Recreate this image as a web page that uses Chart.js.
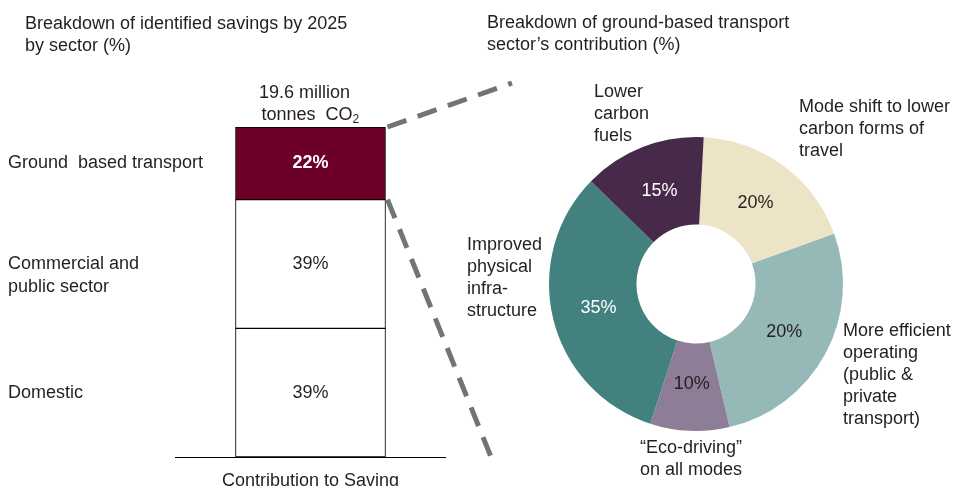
<!DOCTYPE html>
<html>
<head>
<meta charset="utf-8">
<script src="https://cdn.jsdelivr.net/npm/chart.js@4.4.1/dist/chart.umd.min.js"></script>
<style>
  html, body { margin: 0; padding: 0; background: #fff; }
  #wrap { position: relative; width: 958px; height: 486px; overflow: hidden; }
  canvas { position: absolute; left: 0; top: 0; }
  #donut { pointer-events: none; }
</style>
</head>
<body>
<div id="wrap">
  <canvas id="stack" width="958" height="486"></canvas>
  <canvas id="donut" width="958" height="486"></canvas>
</div>
<script>
// left: savings by sector, bottom segment first
const sectors = ['Domestic', 'Commercial and public sector', 'Ground based transport']
const sectorShares = [39, 39, 22]
const sectorText = ['39%', '39%', '22%']
const sectorLines = [['Domestic'], ['Commercial and', 'public sector'], ['Ground  based transport']]
const barCategory = ['Contribution to Saving']

// right: ground transport levers, clockwise from top
const levers = ['Mode shift', 'More efficient operating', 'Eco-driving', 'Improved physical infrastructure', 'Lower carbon fuels']
const leverSlices = [18.6, 26.9, 8.7, 32.3, 13.5]
const leverText = ['20%', '20%', '10%', '35%', '15%']

const FONT = '"Liberation Sans", Arial, sans-serif'
const INK = '#231f20'

const sectorColors = ['#ffffff', '#ffffff', '#6d0029']
const sectorInk = [INK, INK, '#ffffff']
const leverColors = ['#ede3c6', '#95b9b7', '#8e7d96', '#42817e', '#472a4a']
const leverInk = [INK, INK, INK, '#ffffff', '#ffffff']

const text = function (ctx, str, x, y, opts) {
    opts = opts || {}
    ctx.save()
    ctx.font = (opts.bold ? 'bold ' : '') + (opts.size || 18) + 'px ' + FONT
    ctx.fillStyle = opts.color || INK
    ctx.textAlign = opts.align || 'left'
    ctx.textBaseline = 'middle'
    ctx.fillText(str, x, y)
    ctx.restore()
}

const stackDecor = {
    id: 'stackDecor',
    afterDraw(chart) {
        const ctx = chart.ctx
        const area = chart.chartArea

        // titles
        text(ctx, 'Breakdown of identified savings by 2025', 25, 24)
        text(ctx, 'by sector (%)', 25, 46)
        text(ctx, 'Breakdown of ground-based transport', 487, 23)
        text(ctx, 'sector\u2019s contribution (%)', 487, 45)

        // baseline under the column
        ctx.save()
        ctx.strokeStyle = '#000'
        ctx.lineWidth = 1
        ctx.beginPath()
        ctx.moveTo(area.left, Math.round(area.bottom) + 0.5)
        ctx.lineTo(area.right, Math.round(area.bottom) + 0.5)
        ctx.stroke()
        ctx.restore()

        const xs = chart.scales.x
        text(ctx, barCategory[0], xs.getPixelForValue(0), 481, {align: 'center'})

        sectors.forEach((s, i) => {
            const bar = chart.getDatasetMeta(i).data[0]
            const c = bar.getCenterPoint()
            text(ctx, sectorText[i], c.x, c.y, {align: 'center', color: sectorInk[i], bold: i === 2})
            sectorLines[i].forEach((ln, k) => text(ctx, ln, 8, c.y + k * 23))
        })

        // total above the column
        const top = chart.getDatasetMeta(2).data[0]
        text(ctx, '19.6 million', top.x - 6, 93, {align: 'center'})
        ctx.save()
        ctx.font = '18px ' + FONT
        const w1 = ctx.measureText('tonnes  CO').width
        ctx.restore()
        const tx = top.x - 49
        text(ctx, 'tonnes  CO', tx, 115)
        text(ctx, '2', tx + w1, 120, {size: 12})

        // dashed connectors to the doughnut
        const right = top.x + top.width / 2
        ctx.save()
        ctx.strokeStyle = '#6e7478'
        ctx.lineWidth = 5
        ctx.setLineDash([20, 12])
        ctx.beginPath()
        ctx.moveTo(right + 2, top.y)
        ctx.lineTo(512, 83)
        ctx.moveTo(right + 2, top.base)
        ctx.lineTo(493, 462)
        ctx.stroke()
        ctx.restore()
    }
}

new Chart(document.getElementById('stack').getContext('2d'), {
    type: 'bar',
    data: {
        labels: barCategory,
        datasets: sectors.map((s, i) => ({
            label: s,
            data: [sectorShares[i]],
            backgroundColor: sectorColors[i],
            borderColor: '#000',
            borderWidth: 1,
            borderSkipped: false,
            barThickness: 150
        }))
    },
    options: {
        responsive: false,
        animation: false,
        layout: {padding: {left: 175, right: 512, top: 127, bottom: 29}},
        scales: {
            x: {stacked: true, display: false},
            y: {stacked: true, display: false, min: 0, max: 100}
        },
        plugins: {legend: {display: false}, tooltip: {enabled: false}}
    },
    plugins: [stackDecor]
})

const donutDecor = {
    id: 'donutDecor',
    afterDraw(chart) {
        const ctx = chart.ctx
        const arcs = chart.getDatasetMeta(0).data
        arcs.forEach((a, i) => {
            const p = a.getProps(['x', 'y', 'startAngle', 'endAngle', 'innerRadius', 'outerRadius'])
            const mid = (p.startAngle + p.endAngle) / 2
            const r = (p.innerRadius + p.outerRadius) / 2 - 3
            text(ctx, leverText[i], p.x + Math.cos(mid) * r, p.y + Math.sin(mid) * r, {align: 'center', color: leverInk[i]})
        })
        const blocks = [
            {x: 594, y: 92, lines: ['Lower', 'carbon', 'fuels']},
            {x: 799, y: 107, lines: ['Mode shift to lower', 'carbon forms of', 'travel']},
            {x: 467, y: 245, lines: ['Improved', 'physical', 'infra-', 'structure']},
            {x: 843, y: 331, lines: ['More efficient', 'operating', '(public &', 'private', 'transport)']},
            {x: 691, y: 448, lines: ['\u201cEco-driving\u201d', 'on all modes'], align: 'center'}
        ]
        blocks.forEach(b => b.lines.forEach((ln, k) => text(ctx, ln, b.x, b.y + k * 22, {align: b.align})))
    }
}

new Chart(document.getElementById('donut').getContext('2d'), {
    type: 'doughnut',
    data: {
        labels: levers,
        datasets: [{
            data: leverSlices,
            backgroundColor: leverColors,
            borderWidth: 0
        }]
    },
    options: {
        responsive: false,
        animation: false,
        rotation: 3,
        cutout: '40.5%',
        layout: {padding: {left: 549, right: 115, top: 137, bottom: 55}},
        plugins: {legend: {display: false}, tooltip: {enabled: false}}
    },
    plugins: [donutDecor]
})
</script>
</body>
</html>
